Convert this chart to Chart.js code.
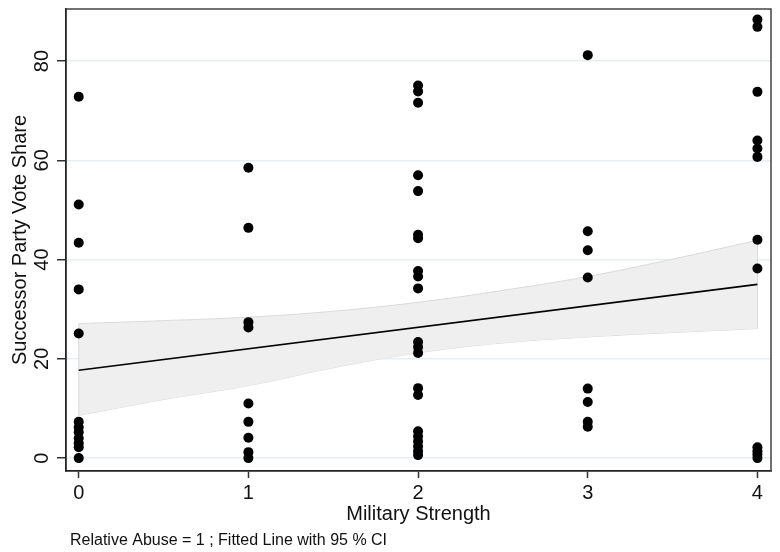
<!DOCTYPE html>
<html>
<head>
<meta charset="utf-8">
<script src="https://cdn.jsdelivr.net/npm/chart.js@4/dist/chart.umd.min.js"></script>
<style>
  html, body { margin: 0; padding: 0; background: #fff; }
  canvas { display: block; }
</style>
</head>
<body>
<canvas id="chart" width="780" height="552"></canvas>
<script>
// Valores (voto do partido sucessor por força militar)
const strength0 = [72.8, 51.1, 43.4, 34.0, 25.1, 7.3, 6.2, 5.2, 4.0, 3.0, 2.2, 0];
const strength1 = [58.5, 46.4, 27.4, 26.3, 11.0, 7.3, 4.1, 1.2, 0];
const strength2 = [75.1, 73.9, 71.6, 57.0, 53.8, 45.0, 44.3, 37.7, 36.6, 34.2, 23.4, 22.4, 21.2, 14.1, 12.7, 5.4, 4.4, 3.4, 2.4, 1.4, 0.6];
const strength3 = [81.2, 45.7, 41.9, 36.4, 14.0, 11.3, 7.3, 6.3];
const strength4 = [88.4, 86.9, 73.8, 64.0, 62.4, 60.7, 44.0, 38.2, 2.2, 1.4, 0.7, 0];

// Linha ajustada e intervalo de confiança de 95%
const fitX = [0, 4];
const fitY = [17.7, 35.0];
const ciX = [0, 0.5, 1, 1.5, 2, 2.5, 3, 3.5, 4];
const ciLower = [8.6, 11.8, 14.6, 18.2, 21.2, 23.2, 24.4, 25.3, 26.1];
const ciUpper = [27.1, 27.7, 28.4, 29.6, 31.4, 33.8, 36.6, 40.1, 43.9];

const xTicks = [0, 1, 2, 3, 4];
const yTicks = [0, 20, 40, 60, 80];

const FONT = "'Liberation Sans', Helvetica, Arial, sans-serif";
const BAND_EDGE = '#dadada';

const groups = [strength0, strength1, strength2, strength3, strength4];
const scatterPoints = [];
groups.forEach((vals, i) => {
    vals.forEach(v => scatterPoints.push({ x: xTicks[i], y: v }));
});

const toXY = (xs, ys) => xs.map((x, i) => ({ x: x, y: ys[i] }));
const last = ciX.length - 1;

// Moldura superior/direita e nota de rodapé
const framePlugin = {
    id: 'frame',
    afterDraw(chart) {
        const { ctx, chartArea } = chart;
        ctx.save();
        ctx.strokeStyle = '#444';
        ctx.lineWidth = 1.5;
        ctx.beginPath();
        ctx.moveTo(chartArea.left, chartArea.top);
        ctx.lineTo(chartArea.right, chartArea.top);
        ctx.lineTo(chartArea.right, chartArea.bottom);
        ctx.stroke();

        ctx.fillStyle = '#111';
        ctx.font = '16px ' + FONT;
        ctx.textBaseline = 'middle';
        ctx.textAlign = 'left';
        ctx.fillText('Relative Abuse = 1 ; Fitted Line with 95 % CI', chartArea.left + 4, 541);
        ctx.restore();
    }
};

const edgeLine = pts => ({
    type: 'line',
    data: pts,
    borderColor: BAND_EDGE,
    borderWidth: 1,
    pointRadius: 0,
    fill: false,
    order: 2
});

new Chart(document.getElementById('chart'), {
    type: 'scatter',
    data: {
        datasets: [
            {
                type: 'scatter',
                data: scatterPoints,
                backgroundColor: '#000',
                borderWidth: 0,
                pointRadius: 5,
                order: 0
            },
            {
                type: 'line',
                data: toXY(fitX, fitY),
                borderColor: '#000',
                borderWidth: 1.6,
                pointRadius: 0,
                fill: false,
                order: 1
            },
            {
                type: 'line',
                data: toXY(ciX, ciUpper),
                borderColor: BAND_EDGE,
                borderWidth: 1,
                backgroundColor: '#efefef',
                pointRadius: 0,
                tension: 0.4,
                fill: '+1',
                order: 3
            },
            {
                type: 'line',
                data: toXY(ciX, ciLower),
                borderColor: BAND_EDGE,
                borderWidth: 1,
                pointRadius: 0,
                tension: 0.4,
                fill: false,
                order: 3
            },
            edgeLine([{ x: ciX[0], y: ciLower[0] }, { x: ciX[0], y: ciUpper[0] }]),
            edgeLine([{ x: ciX[last], y: ciLower[last] }, { x: ciX[last], y: ciUpper[last] }])
        ]
    },
    options: {
        responsive: false,
        animation: false,
        events: [],
        layout: { padding: { top: 9, right: 9, left: 0, bottom: 0 } },
        plugins: {
            legend: { display: false },
            tooltip: { enabled: false }
        },
        scales: {
            x: {
                type: 'linear',
                min: -0.075,
                max: 4.08,
                afterBuildTicks: scale => { scale.ticks = xTicks.map(v => ({ value: v })); },
                afterFit: scale => {
                    scale.height = 81;
                    scale.paddingLeft = 0;
                    scale.paddingRight = 0;
                },
                grid: { drawOnChartArea: false, drawTicks: true, tickLength: 7, tickColor: '#333', tickWidth: 1.5 },
                border: { display: true, color: '#222', width: 1.8 },
                ticks: { color: '#111', font: { family: FONT, size: 20 }, padding: 3, maxRotation: 0 },
                title: {
                    display: true,
                    text: 'Military Strength',
                    color: '#111',
                    font: { family: FONT, size: 20 },
                    padding: { top: 0, bottom: 26 }
                }
            },
            y: {
                type: 'linear',
                min: -2.6,
                max: 90.5,
                afterBuildTicks: scale => { scale.ticks = yTicks.map(v => ({ value: v })); },
                afterFit: scale => {
                    scale.width = 66;
                    scale.paddingTop = 0;
                    scale.paddingBottom = 0;
                },
                grid: { color: '#e6eff3', lineWidth: 1.5, tickLength: 9, tickColor: '#333', tickWidth: 1.5 },
                border: { display: true, color: '#222', width: 1.8 },
                ticks: {
                    color: '#111',
                    font: { family: FONT, size: 20 },
                    minRotation: 90,
                    maxRotation: 90,
                    crossAlign: 'center',
                    padding: 3
                },
                title: {
                    display: true,
                    text: 'Successor Party Vote Share',
                    color: '#111',
                    font: { family: FONT, size: 20 },
                    padding: { top: 8, bottom: 0 }
                }
            }
        }
    },
    plugins: [framePlugin]
});
</script>
</body>
</html>
